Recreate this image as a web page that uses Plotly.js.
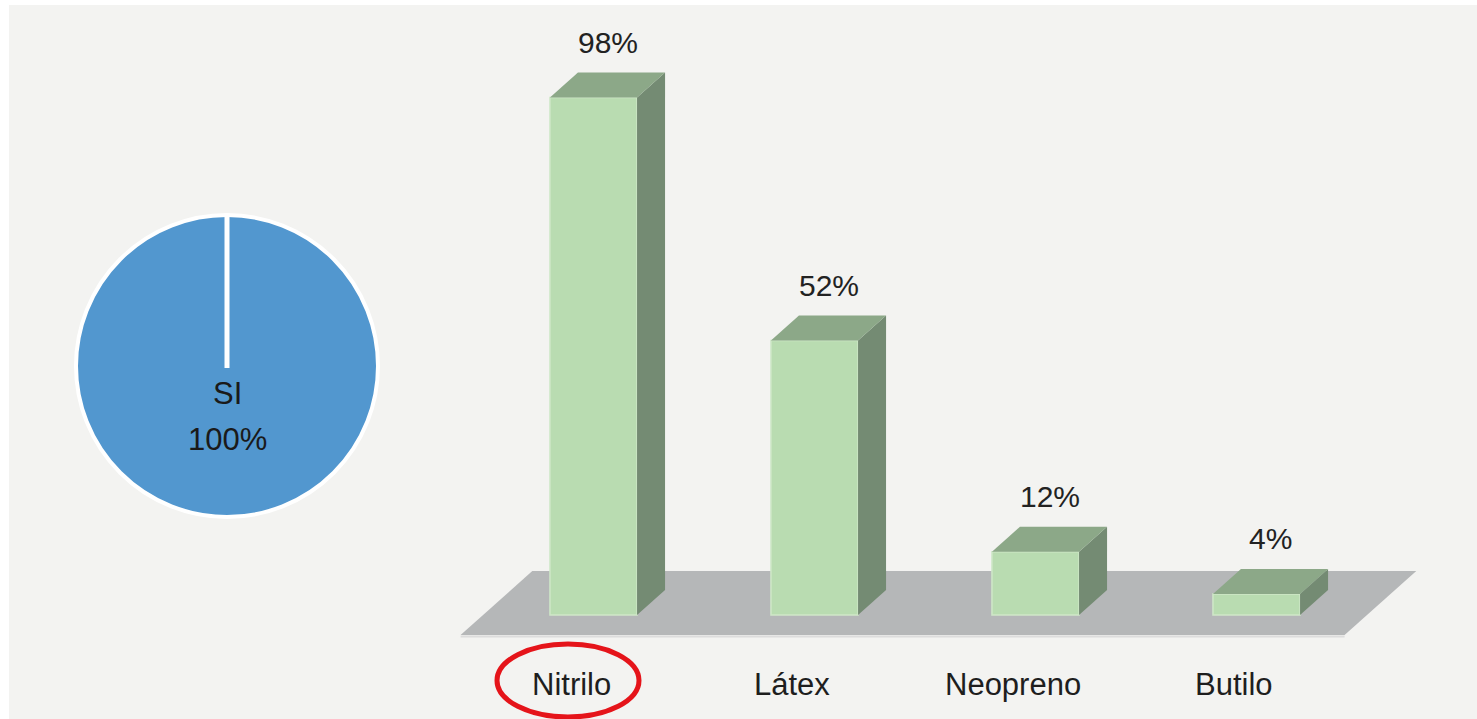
<!DOCTYPE html>
<html>
<head>
<meta charset="utf-8">
<script src="https://cdn.plot.ly/plotly-3.0.1.min.js"></script>
<style>html,body{margin:0;padding:0;background:#fff;}#chart{width:1477px;height:719px;}</style>
</head>
<body>
<div id="chart"></div>
<script>
// ---- data ----
const categories = ['Nitrilo', 'Látex', 'Neopreno', 'Butilo'];
const values = [98, 52, 12, 4];
const valueLabels = ['98%', '52%', '12%', '4%'];
const pieLabels = ['SI'];
const pieValues = [100];
const pieTextLabels = ['100%'];

// ---- style / geometry ----
const W = 1477, H = 719;
const FONT = 'Liberation Sans, Arial, sans-serif';
const colFront = '#b9dcb1', colFrontEdge = '#cfe7c8';
const colTop = '#8ca888', colSide = '#748b73';
const colFloor = '#b5b7b8';
const barW = 0.394;       // category units
const dX = 0.1267;        // depth offset in x units
const dY = 4.73;          // depth offset in y units (%)
const floorFront = -0.8, floorBack = 1.76;

const xIdx = categories.map((c, i) => i);
const px = (p) => p / W;
const py = (p) => 1 - p / H;

const traces = [];
// sides and tops of the bars
xIdx.forEach((i) => {
  const v = values[i];
  const l = i - barW / 2, r = i + barW / 2;
  traces.push({
    type: 'scatter', mode: 'lines', fill: 'toself', fillcolor: colSide,
    line: {width: 0, color: colSide}, hoverinfo: 'skip', showlegend: false,
    x: [r, r + dX, r + dX, r, r], y: [0, dY, v + dY, v, 0]
  });
  traces.push({
    type: 'scatter', mode: 'lines', fill: 'toself', fillcolor: colTop,
    line: {width: 0, color: colTop}, hoverinfo: 'skip', showlegend: false,
    x: [l, r, r + dX, l + dX, l], y: [v, v, v + dY, v + dY, v]
  });
});
// front faces
traces.push({
  type: 'bar', x: xIdx, y: values, width: barW,
  marker: {color: colFront, line: {color: colFrontEdge, width: 1.5}},
  hoverinfo: 'skip', showlegend: false
});
// pie
traces.push({
  type: 'pie', labels: pieLabels, values: pieValues, sort: false,
  marker: {colors: ['#5297cf'], line: {color: '#ffffff', width: 4}},
  textinfo: 'none', hoverinfo: 'skip', showlegend: false,
  domain: {x: [px(76), px(378)], y: [py(517), py(215)]}
});

const n = categories.length;
const floorPts = [
  [-0.5 + floorFront * dX, floorFront * dY],
  [n - 0.5 + floorFront * dX, floorFront * dY],
  [n - 0.5 + floorBack * dX, floorBack * dY],
  [-0.5 + floorBack * dX, floorBack * dY]
];
const floorPath = 'M' + floorPts.map(p => p[0] + ',' + p[1]).join('L') + 'Z';

const shapes = [
  {type: 'rect', xref: 'paper', yref: 'paper', x0: px(9), x1: 1, y0: 0, y1: py(5),
   fillcolor: '#f3f3f1', line: {width: 0}, layer: 'below'},
  {type: 'path', xref: 'x', yref: 'y', path: floorPath, fillcolor: colFloor,
   line: {width: 0}, layer: 'below'},
  {type: 'line', xref: 'x', yref: 'y',
   x0: floorPts[0][0], y0: floorPts[0][1] - 0.3, x1: floorPts[1][0], y1: floorPts[1][1] - 0.3,
   line: {color: '#dcdcdc', width: 2}, layer: 'below'},
  // radial white line of the pie
  {type: 'line', xref: 'paper', yref: 'paper', x0: px(227), x1: px(227), y0: py(214), y1: py(368),
   line: {color: '#ffffff', width: 5}},
  // red ellipse around Nitrilo
  {type: 'circle', xref: 'paper', yref: 'paper', x0: px(497), x1: px(639), y0: py(717), y1: py(644),
   line: {color: '#e5141a', width: 5}}
];

const annotations = [];
xIdx.forEach((i) => {
  annotations.push({
    xref: 'x', yref: 'y', x: i + dX / 2, y: values[i] + dY, yshift: 30,
    text: valueLabels[i], showarrow: false, xanchor: 'center', yanchor: 'middle',
    font: {family: FONT, size: 30, color: '#222'}
  });
  annotations.push({
    xref: 'x', yref: 'y', x: i + floorFront * dX, y: floorFront * dY, yshift: -50,
    text: categories[i], showarrow: false, xanchor: 'center', yanchor: 'middle',
    font: {family: FONT, size: 31, color: '#1e1e1e'}
  });
});
annotations.push({
  xref: 'paper', yref: 'paper', x: px(227), y: py(393), text: pieLabels[0],
  showarrow: false, xanchor: 'center', yanchor: 'middle',
  font: {family: FONT, size: 31, color: '#1a1a1a'}
});
annotations.push({
  xref: 'paper', yref: 'paper', x: px(227), y: py(440), text: pieTextLabels[0],
  showarrow: false, xanchor: 'center', yanchor: 'middle',
  font: {family: FONT, size: 31, color: '#1a1a1a'}
});

const layout = {
  width: W, height: H,
  margin: {l: 0, r: 0, t: 0, b: 0},
  paper_bgcolor: '#ffffff', plot_bgcolor: 'rgba(0,0,0,0)',
  showlegend: false,
  xaxis: {range: [-593.5 / 221, (W - 593.5) / 221], visible: false, fixedrange: true},
  yaxis: {range: [(615 - H) / 5.28, 615 / 5.28], visible: false, fixedrange: true},
  shapes: shapes, annotations: annotations
};

Plotly.newPlot('chart', traces, layout, {displayModeBar: false, staticPlot: true});
</script>
</body>
</html>
